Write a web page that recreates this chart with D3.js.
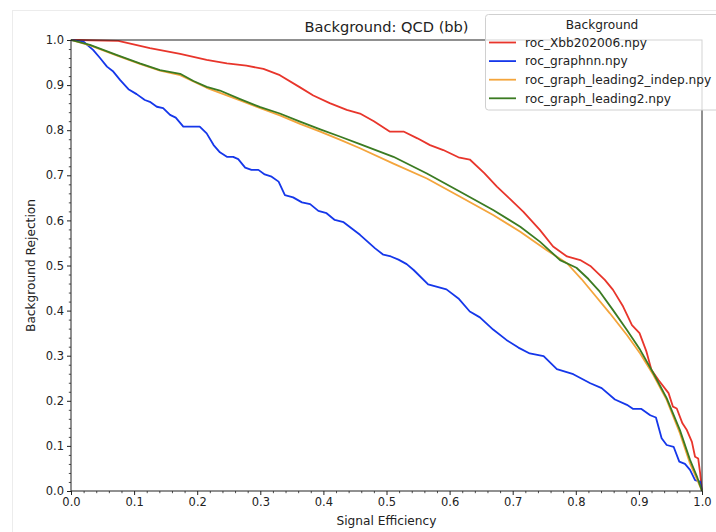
<!DOCTYPE html>
<html>
<head>
<meta charset="utf-8">
<script src="https://cdn.jsdelivr.net/npm/d3@7"></script>
<style>
  html, body { margin: 0; padding: 0; background: #fff; }
  svg { display: block; font-family: "DejaVu Sans", sans-serif; }
</style>
</head>
<body>
<svg id="chart" width="716" height="532"></svg>
<script>
// ROC curves: signal efficiency (x) vs background rejection (y)
const seriesNames = ["roc_Xbb202006.npy", "roc_graphnn.npy", "roc_graph_leading2_indep.npy", "roc_graph_leading2.npy"];
const seriesColors = ["#e8352b", "#1537ea", "#f4a53c", "#3b7b22"];

const xbbEff = [0, 0.013, 0.075, 0.125, 0.173, 0.215, 0.247, 0.278, 0.305, 0.331, 0.363, 0.384, 0.41, 0.437, 0.458, 0.48, 0.505, 0.527, 0.549, 0.569, 0.59, 0.614, 0.632, 0.655, 0.675, 0.696, 0.717, 0.743, 0.764, 0.786, 0.807, 0.823, 0.846, 0.859, 0.875, 0.889, 0.901, 0.912, 0.92, 0.931, 0.947, 0.954, 0.96, 0.969, 0.976, 0.984, 0.989, 0.994, 0.997, 1.0];
const xbbRej = [1.0, 1.0, 0.998, 0.982, 0.969, 0.956, 0.948, 0.943, 0.936, 0.922, 0.895, 0.877, 0.86, 0.845, 0.837, 0.82, 0.797, 0.797, 0.782, 0.767, 0.756, 0.74, 0.735, 0.705, 0.675, 0.647, 0.619, 0.579, 0.542, 0.52, 0.512, 0.499, 0.468, 0.446, 0.409, 0.368, 0.35, 0.309, 0.268, 0.246, 0.217, 0.187, 0.183, 0.15, 0.135, 0.109, 0.076, 0.072, 0.04, 0.0];

const gnnEff = [0, 0.02, 0.035, 0.046, 0.057, 0.067, 0.078, 0.091, 0.104, 0.117, 0.125, 0.136, 0.146, 0.157, 0.166, 0.178, 0.204, 0.215, 0.226, 0.236, 0.247, 0.257, 0.265, 0.276, 0.286, 0.297, 0.307, 0.318, 0.329, 0.339, 0.352, 0.366, 0.379, 0.392, 0.405, 0.418, 0.432, 0.445, 0.458, 0.47, 0.482, 0.495, 0.507, 0.519, 0.532, 0.543, 0.566, 0.595, 0.614, 0.632, 0.648, 0.669, 0.69, 0.709, 0.727, 0.749, 0.77, 0.796, 0.823, 0.841, 0.862, 0.881, 0.891, 0.904, 0.918, 0.927, 0.936, 0.944, 0.955, 0.964, 0.973, 0.981, 0.989, 0.997, 1.0];
const gnnRej = [1.0, 0.996, 0.978, 0.96, 0.941, 0.93, 0.911, 0.891, 0.88, 0.867, 0.863, 0.852, 0.849, 0.834, 0.828, 0.808, 0.808, 0.793, 0.767, 0.751, 0.741, 0.741, 0.736, 0.717, 0.712, 0.712, 0.702, 0.697, 0.686, 0.656, 0.651, 0.64, 0.636, 0.621, 0.616, 0.601, 0.596, 0.582, 0.568, 0.553, 0.538, 0.524, 0.52, 0.513, 0.503, 0.49, 0.458, 0.447, 0.427, 0.398, 0.385, 0.358, 0.335, 0.318, 0.305, 0.299, 0.27, 0.259, 0.239, 0.228, 0.203, 0.191, 0.182, 0.182, 0.168, 0.163, 0.117, 0.102, 0.098, 0.065, 0.06, 0.047, 0.024, 0.021, 0.0];

const indepEff = [0, 0.03, 0.072, 0.109, 0.141, 0.173, 0.215, 0.268, 0.3, 0.331, 0.363, 0.395, 0.426, 0.458, 0.511, 0.564, 0.616, 0.669, 0.712, 0.754, 0.786, 0.809, 0.828, 0.854, 0.881, 0.902, 0.923, 0.944, 0.965, 0.981, 1.0];
const indepRej = [1.0, 0.988, 0.966, 0.947, 0.932, 0.922, 0.894, 0.866, 0.849, 0.833, 0.814, 0.797, 0.779, 0.76, 0.726, 0.693, 0.653, 0.612, 0.575, 0.534, 0.505, 0.47, 0.438, 0.394, 0.346, 0.305, 0.257, 0.202, 0.128, 0.061, 0.0];

const lead2Eff = [0, 0.03, 0.072, 0.109, 0.141, 0.173, 0.194, 0.215, 0.236, 0.268, 0.3, 0.331, 0.363, 0.395, 0.426, 0.458, 0.511, 0.564, 0.616, 0.669, 0.712, 0.743, 0.775, 0.801, 0.82, 0.838, 0.859, 0.881, 0.902, 0.923, 0.944, 0.965, 0.981, 0.992, 1.0];
const lead2Rej = [1.0, 0.989, 0.967, 0.948, 0.933, 0.925, 0.909, 0.896, 0.888, 0.869, 0.851, 0.837, 0.819, 0.802, 0.786, 0.769, 0.741, 0.704, 0.664, 0.623, 0.586, 0.553, 0.512, 0.495, 0.47, 0.442, 0.401, 0.357, 0.313, 0.261, 0.206, 0.135, 0.069, 0.032, 0.0];

const xTicks = [0, 0.1, 0.2, 0.3, 0.4, 0.5, 0.6, 0.7, 0.8, 0.9, 1.0];
const yTicks = [0, 0.1, 0.2, 0.3, 0.4, 0.5, 0.6, 0.7, 0.8, 0.9, 1.0];

const curves = [
  { eff: xbbEff, rej: xbbRej },
  { eff: gnnEff, rej: gnnRej },
  { eff: indepEff, rej: indepRej },
  { eff: lead2Eff, rej: lead2Rej }
].map((c, i) => ({ name: seriesNames[i], color: seriesColors[i], points: c.eff.map((e, j) => [e, c.rej[j]]) }));

const svg = d3.select("#chart");
const W = 716, H = 532;
const m = { left: 71, right: 14, top: 40, bottom: 41 };
const plotW = W - m.left - m.right, plotH = H - m.top - m.bottom;

// faint figure frame
svg.append("rect").attr("x", 12.5).attr("y", 10.5).attr("width", 800).attr("height", 600)
  .attr("fill", "none").attr("stroke", "#ececec").attr("stroke-width", 1);

const x = d3.scaleLinear().domain([0, 1]).range([m.left, m.left + plotW]);
const y = d3.scaleLinear().domain([0, 1]).range([m.top + plotH, m.top]);

const minorVals = d3.range(0, 51).map(i => i / 50).filter(v => Math.round(v * 50) % 5 !== 0);

// minor ticks
svg.append("g").attr("transform", `translate(0,${m.top + plotH})`)
  .call(d3.axisBottom(x).tickValues(minorVals).tickSize(2.2).tickFormat(""))
  .call(g => g.select(".domain").remove())
  .call(g => g.selectAll("line").attr("stroke", "#222").attr("stroke-width", 0.8));
svg.append("g").attr("transform", `translate(${m.left},0)`)
  .call(d3.axisLeft(y).tickValues(minorVals).tickSize(2.2).tickFormat(""))
  .call(g => g.select(".domain").remove())
  .call(g => g.selectAll("line").attr("stroke", "#222").attr("stroke-width", 0.8));

// major ticks and labels
svg.append("g").attr("transform", `translate(0,${m.top + plotH})`)
  .call(d3.axisBottom(x).tickValues(xTicks).tickSize(4).tickPadding(3).tickFormat(d3.format(".1f")))
  .call(g => g.select(".domain").remove())
  .call(g => g.selectAll("line").attr("stroke", "#222").attr("stroke-width", 1))
  .call(g => g.selectAll("text").attr("font-size", "11.5px").attr("fill", "#222").attr("font-family", "DejaVu Sans"));
svg.append("g").attr("transform", `translate(${m.left},0)`)
  .call(d3.axisLeft(y).tickValues(yTicks).tickSize(4).tickPadding(3).tickFormat(d3.format(".1f")))
  .call(g => g.select(".domain").remove())
  .call(g => g.selectAll("line").attr("stroke", "#222").attr("stroke-width", 1))
  .call(g => g.selectAll("text").attr("font-size", "11.5px").attr("fill", "#222").attr("font-family", "DejaVu Sans"));

// curves
const line = d3.line().x(d => x(d[0])).y(d => y(d[1]));
svg.append("g").selectAll("path").data(curves).join("path")
  .attr("d", d => line(d.points))
  .attr("fill", "none")
  .attr("stroke", d => d.color)
  .attr("stroke-width", 1.8)
  .attr("stroke-linejoin", "round");

// axes frame
svg.append("rect").attr("x", m.left).attr("y", m.top).attr("width", plotW).attr("height", plotH)
  .attr("fill", "none").attr("stroke", "#222").attr("stroke-width", 1);

// titles
svg.append("text").attr("x", m.left + plotW / 2).attr("y", 32).attr("text-anchor", "middle")
  .attr("font-size", "14.6px").attr("fill", "#222").text("Background: QCD (bb)");
svg.append("text").attr("x", m.left + plotW / 2).attr("y", 525).attr("text-anchor", "middle")
  .attr("font-size", "12.2px").attr("fill", "#222").text("Signal Efficiency");
svg.append("text").attr("transform", `translate(35,${m.top + plotH / 2}) rotate(-90)`).attr("text-anchor", "middle")
  .attr("font-size", "12.2px").attr("fill", "#222").text("Background Rejection");

// legend
const lg = svg.append("g");
lg.append("rect").attr("x", 485.5).attr("y", 14.5).attr("width", 260).attr("height", 95.5).attr("rx", 3)
  .attr("fill", "#fff").attr("fill-opacity", 0.8).attr("stroke", "#d0d0d0").attr("stroke-width", 1);
lg.append("text").attr("x", 602).attr("y", 29).attr("text-anchor", "middle")
  .attr("font-size", "12.2px").attr("fill", "#222").text("Background");
const rows = lg.selectAll("g.row").data(curves).join("g").attr("class", "row")
  .attr("transform", (d, i) => `translate(0,${42.5 + i * 18.6})`);
rows.append("line").attr("x1", 489).attr("x2", 516).attr("y1", 0).attr("y2", 0)
  .attr("stroke", d => d.color).attr("stroke-width", 1.8);
rows.append("text").attr("x", 525).attr("y", 4.3).attr("font-size", "12.2px").attr("fill", "#222").text(d => d.name);
</script>
</body>
</html>
